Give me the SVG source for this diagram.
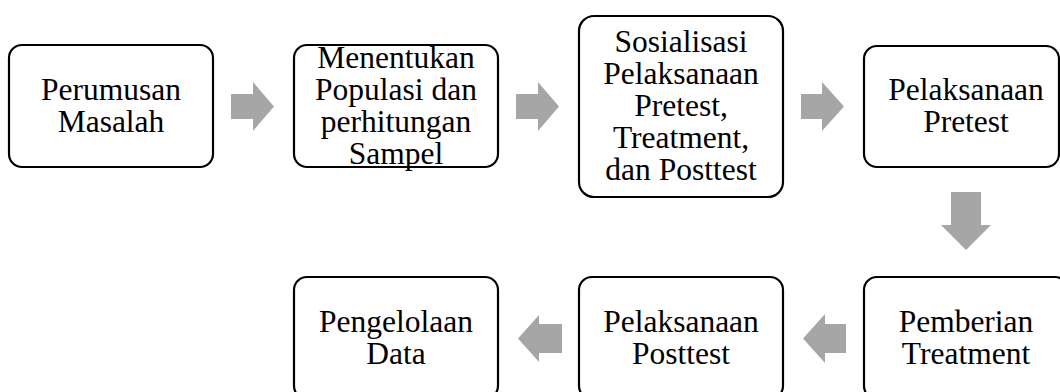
<svg xmlns="http://www.w3.org/2000/svg" width="1060" height="392" viewBox="0 0 1060 392">
<style>
.box{fill:#fff;stroke:#000;stroke-width:2.2}
.t{font-family:"Liberation Serif","Times New Roman",serif;font-size:31.5px;fill:#000;text-anchor:middle}
.arr{fill:#a6a6a6}
</style>
<rect width="1060" height="392" fill="#fff"/>
<g id="connectors">
<polygon class="arr" points="231,94 253,94 253,82 274,106.5 253,131 253,119 231,119"/>
<polygon class="arr" points="516,94 538,94 538,82 559,106.5 538,131 538,119 516,119"/>
<polygon class="arr" points="801,94 822,94 822,82 844,106.5 822,131 822,119 801,119"/>
<polygon class="arr" points="951,192 981,192 981,225 991,225 966,250 941,225 951,225"/>
<polygon class="arr" points="846,324 825,324 825,314 803,338.5 825,363 825,353 846,353"/>
<polygon class="arr" points="562,324 539,324 539,315 518,338.5 539,362 539,353 562,353"/>
</g>
<g id="n1"><rect class="box" x="9" y="45" width="204" height="122" rx="13"/>
<text class="t" x="111" y="100">Perumusan</text><text class="t" x="111" y="132">Masalah</text></g>
<g id="n2"><rect class="box" x="294" y="45" width="204" height="122" rx="13"/>
<text class="t" x="396" y="68">Menentukan</text><text class="t" x="396" y="100">Populasi dan</text><text class="t" x="396" y="132">perhitungan</text><text class="t" x="396" y="164">Sampel</text></g>
<g id="n3"><rect class="box" x="579" y="16" width="204" height="181" rx="15"/>
<text class="t" x="681" y="52">Sosialisasi</text><text class="t" x="681" y="84">Pelaksanaan</text><text class="t" x="681" y="116">Pretest,</text><text class="t" x="681" y="148">Treatment,</text><text class="t" x="681" y="180">dan Posttest</text></g>
<g id="n4"><rect class="box" x="864" y="46" width="195" height="121" rx="13"/>
<text class="t" x="966" y="100">Pelaksanaan</text><text class="t" x="966" y="132">Pretest</text></g>
<g id="n5"><rect class="box" x="864" y="277" width="204" height="122" rx="13"/>
<text class="t" x="966" y="332">Pemberian</text><text class="t" x="966" y="364">Treatment</text></g>
<g id="n6"><rect class="box" x="579" y="277" width="204" height="122" rx="13"/>
<text class="t" x="681" y="332">Pelaksanaan</text><text class="t" x="681" y="364">Posttest</text></g>
<g id="n7"><rect class="box" x="294" y="277" width="204" height="122" rx="13"/>
<text class="t" x="396" y="332">Pengelolaan</text><text class="t" x="396" y="364">Data</text></g>
</svg>
